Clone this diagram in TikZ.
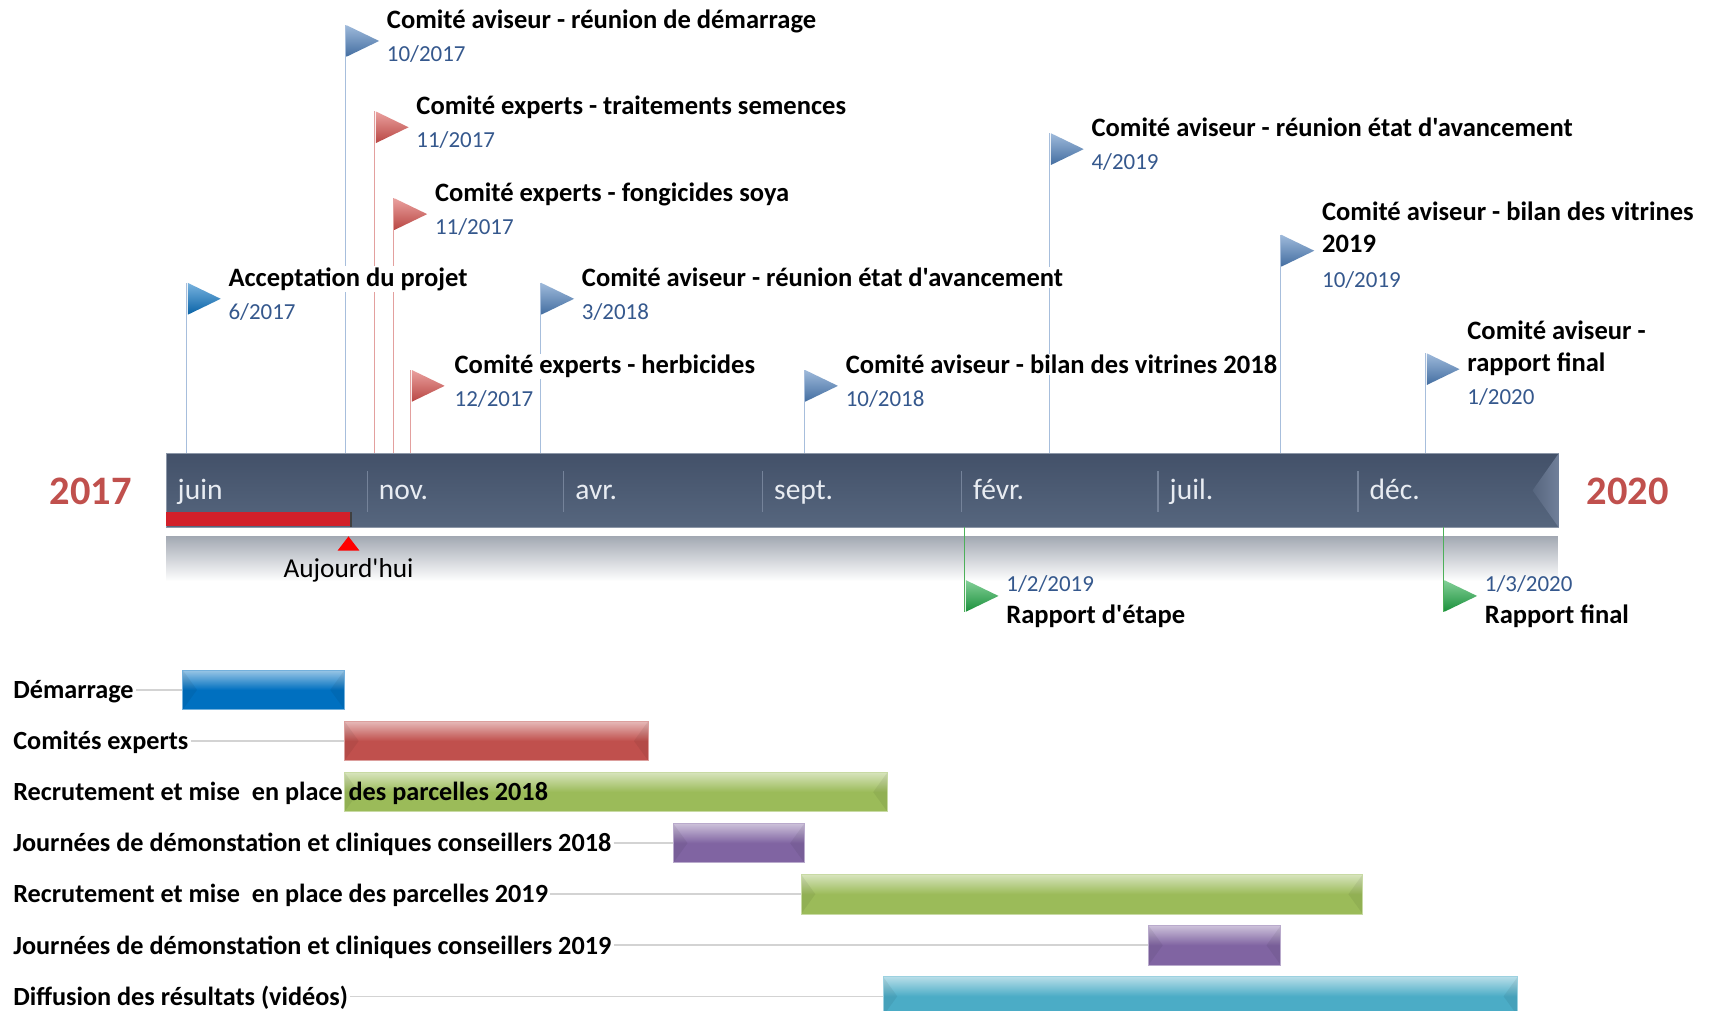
\documentclass[tikz,border=0pt]{standalone}
\usepackage{fontspec}
\setmainfont{Carlito}[Ligatures=TeXOff]
\usetikzlibrary{calc}
\definecolor{barTop}{HTML}{435169}
\definecolor{barBot}{HTML}{56667E}
\definecolor{barEdge}{HTML}{8C97A8}
\definecolor{barHi}{HTML}{71809A}
\definecolor{sepCol}{HTML}{75839A}
\definecolor{monthCol}{HTML}{E8ECF2}
\definecolor{yearCol}{HTML}{C0504D}
\definecolor{dateCol}{HTML}{35588D}
\definecolor{lnBlue}{HTML}{A7BEDC}
\definecolor{lnRed}{HTML}{E3A09E}
\definecolor{lnGreen}{HTML}{4DB05A}
\definecolor{fBlueA}{HTML}{0A74C4}
\definecolor{fBlue}{HTML}{4F81BD}
\definecolor{fRed}{HTML}{D9534F}
\definecolor{fGreen}{HTML}{1FAA45}
\definecolor{todayRed}{HTML}{D2202A}
\definecolor{bandGray}{HTML}{A3A9B3}
\definecolor{connGray}{HTML}{D3D3D3}
\definecolor{gBlue}{HTML}{0070C0}
\definecolor{gRed}{HTML}{C0504D}
\definecolor{gGreen}{HTML}{9BBB59}
\definecolor{gPurple}{HTML}{8064A2}
\definecolor{gCyan}{HTML}{4BACC6}
\newcommand{\flagtri}[3]{\shade[top color=#3!55!white, bottom color=#3!85!black] (#1+1,#2) -- (#1+31,#2+14.5) -- (#1+1,#2+29) -- cycle;}
\tikzset{
  ttl/.style={anchor=base west, font=\fontsize{24.3}{28}\selectfont\bfseries, fill=white, inner sep=1pt},
  dte/.style={anchor=base west, font=\fontsize{21}{25}\selectfont, text=dateCol, fill=white, inner sep=1pt},
  vline/.style={line width=1pt},
  month/.style={anchor=base west, font=\fontsize{27}{30}\selectfont, text=monthCol, inner sep=0pt},
  yr/.style={anchor=base, font=\fontsize{37}{40}\selectfont\bfseries, text=yearCol},
  glab/.style={anchor=base west, font=\fontsize{24}{27}\selectfont\bfseries, inner sep=2pt},
  gconn/.style={connGray, line width=1.5pt},
  gbar/.style={anchor=west, minimum height=36pt, inner sep=0pt, draw=#1!55!white, line width=0.6pt,
    top color=#1!40!white, bottom color=#1, middle color=#1,
    path picture={
      \fill[black,opacity=.06] (path picture bounding box.north west) -- ([xshift=13pt]path picture bounding box.west) -- (path picture bounding box.south west) -- cycle;
      \fill[black,opacity=.06] (path picture bounding box.north east) -- ([xshift=-13pt]path picture bounding box.east) -- (path picture bounding box.south east) -- cycle;
    }},
}
\begin{document}
\begin{tikzpicture}[x=1pt,y=-1pt]
\useasboundingbox (0,0) rectangle (1568,925.4);
\fill[white] (0,0) rectangle (1568,925.4);

% ---- vertical lines of the milestones above the bar
\foreach \n/\x/\y/\c in {m1/171/259/lnBlue, m2/316/23/lnBlue, m3/343/102/lnRed, m4/360/181.5/lnRed,
  m5/494.5/259/lnBlue, m6/376/338.7/lnRed, m7/736/338.7/lnBlue, m8/961/122/lnBlue,
  m9/1172/215/lnBlue, m10/1305/323.4/lnBlue}{
  \coordinate (\n-t) at (\x,\y);
  \coordinate (\n-b) at (\x,415);
  \draw[vline,\c] (\n-b) -- (\n-t);
}

% ---- titles and dates
\node[ttl] (m1-title) at (208,262) {Acceptation du projet};
\node[dte] (m1-date) at (208,292) {6/2017};
\node[ttl] (m2-title) at (353,26) {Comité aviseur - réunion de démarrage};
\node[dte] (m2-date) at (353,56) {10/2017};
\node[ttl] (m3-title) at (380,105) {Comité experts - traitements semences};
\node[dte] (m3-date) at (380,135) {11/2017};
\node[ttl] (m4-title) at (397,184.5) {Comité experts - fongicides soya};
\node[dte] (m4-date) at (397,214.5) {11/2017};
\node[ttl] (m5-title) at (531.5,262) {Comité aviseur - réunion état d'avancement};
\node[dte] (m5-date) at (531.5,292) {3/2018};
\node[ttl] (m6-title) at (415,341.7) {Comité experts - herbicides};
\node[dte] (m6-date) at (415,371.7) {12/2017};
\node[ttl] (m7-title) at (773,341.7) {Comité aviseur - bilan des vitrines 2018};
\node[dte] (m7-date) at (773,371.7) {10/2018};
\node[ttl] (m8-title) at (998,125) {Comité aviseur - réunion état d'avancement};
\node[dte] (m8-date) at (998,155) {4/2019};
\node[ttl] (m9-title) at (1209,202) {Comité aviseur - bilan des vitrines};
\node[ttl] (m9-title2) at (1209,231) {2019};
\node[dte] (m9-date) at (1209,263) {10/2019};
\node[ttl] (m10-title) at (1342,311) {Comité aviseur -};
\node[ttl] (m10-title2) at (1342,340) {rapport final};
\node[dte] (m10-date) at (1342,370.5) {1/2020};

% ---- flags
\flagtri{171}{259}{fBlueA}
\flagtri{316}{23}{fBlue}
\flagtri{343}{102}{fRed}
\flagtri{360}{181.5}{fRed}
\flagtri{494.5}{259}{fBlue}
\flagtri{376}{338.7}{fRed}
\flagtri{736}{338.7}{fBlue}
\flagtri{961}{122}{fBlue}
\flagtri{1172}{215}{fBlue}
\flagtri{1305}{323.4}{fBlue}

% ---- main time bar
\node[anchor=north west, minimum width=1274pt, minimum height=67pt, inner sep=0pt,
  top color=barTop, bottom color=barBot, draw=barEdge, line width=0.8pt] (tl) at (152,415) {};
\shade[left color=barBot, right color=barHi] (tl.north east) -- ($(tl.east)+(-24,0)$) -- (tl.south east) -- cycle;
\foreach \x/\m/\k in {152/juin/0, 336/nov./1, 516/avr./1, 698/sept./1, 880/févr./1, 1060/juil./1, 1243/déc./1}{
  \ifnum\k=1 \draw[sepCol, line width=1pt] (\x,431) -- (\x,469); \fi
  \node[month] at (\x+10.5,457.5) {\m};
}
\node[yr] (y2017) at (83,462) {2017};
\node[yr] (y2020) at (1490,462) {2020};

% ---- today marker
\node[anchor=south west, minimum width=169pt, minimum height=13pt, inner sep=0pt, fill=todayRed] (todaybar) at (152,482) {};
\draw[black!75, line width=1.2pt] (todaybar.north east) -- (todaybar.south east);
\shade[top color=bandGray, bottom color=white] (152,491) rectangle (1426,532);
\coordinate (tri) at (319,491);
\fill[red] (tri) -- ($(tri)+(10,13)$) -- ($(tri)+(-10,13)$) -- cycle;
\node[anchor=base, font=\fontsize{25}{28}\selectfont, inner sep=0pt] (auj) at (319,529) {Aujourd'hui};

% ---- milestones below the bar
\foreach \n/\x in {g1/883, g2/1321}{
  \coordinate (\n-t) at (\x,560);
  \coordinate (\n-b) at (\x,482);
  \draw[vline,lnGreen] (\n-b) -- (\n-t);
  \flagtri{\x}{531}{fGreen}
}
\node[dte, fill=none] (g1-date) at (920,541.6) {1/2/2019};
\node[ttl, fill=none] (g1-title) at (920,570.6) {Rapport d'étape};
\node[dte, fill=none] (g2-date) at (1358,541.6) {1/3/2020};
\node[ttl, fill=none] (g2-title) at (1358,570.6) {Rapport final};

% ---- Gantt bars
\node[gbar=gBlue, minimum width=148pt] (b1) at (167,631.5) {};
\node[gbar=gRed, minimum width=278pt] (b2) at (315,678.25) {};
\node[gbar=gGreen, minimum width=497pt] (b3) at (315,725) {};
\node[gbar=gPurple, minimum width=120pt] (b4) at (616,771.75) {};
\node[gbar=gGreen, minimum width=514pt] (b5) at (733,818.5) {};
\node[gbar=gPurple, minimum width=121pt] (b6) at (1051,865.25) {};
\node[gbar=gCyan, minimum width=581pt] (b7) at (808,912) {};

\node[glab] (l1) at (10,639.5) {Démarrage};
\node[glab] (l2) at (10,686.25) {Comités experts};
\node[glab] (l3) at (10,733) {Recrutement et mise\ \ en place des parcelles 2018};
\node[glab] (l4) at (10,779.75) {Journées de démonstation et cliniques conseillers 2018};
\node[glab] (l5) at (10,826.5) {Recrutement et mise\ \ en place des parcelles 2019};
\node[glab] (l6) at (10,873.25) {Journées de démonstation et cliniques conseillers 2019};
\node[glab] (l7) at (10,920) {Diffusion des résultats (vidéos)};

\foreach \i in {1,2,4,5,6,7}{
  \draw[gconn] (l\i.east |- b\i.west) -- (b\i.west);
}
\end{tikzpicture}
\end{document}
